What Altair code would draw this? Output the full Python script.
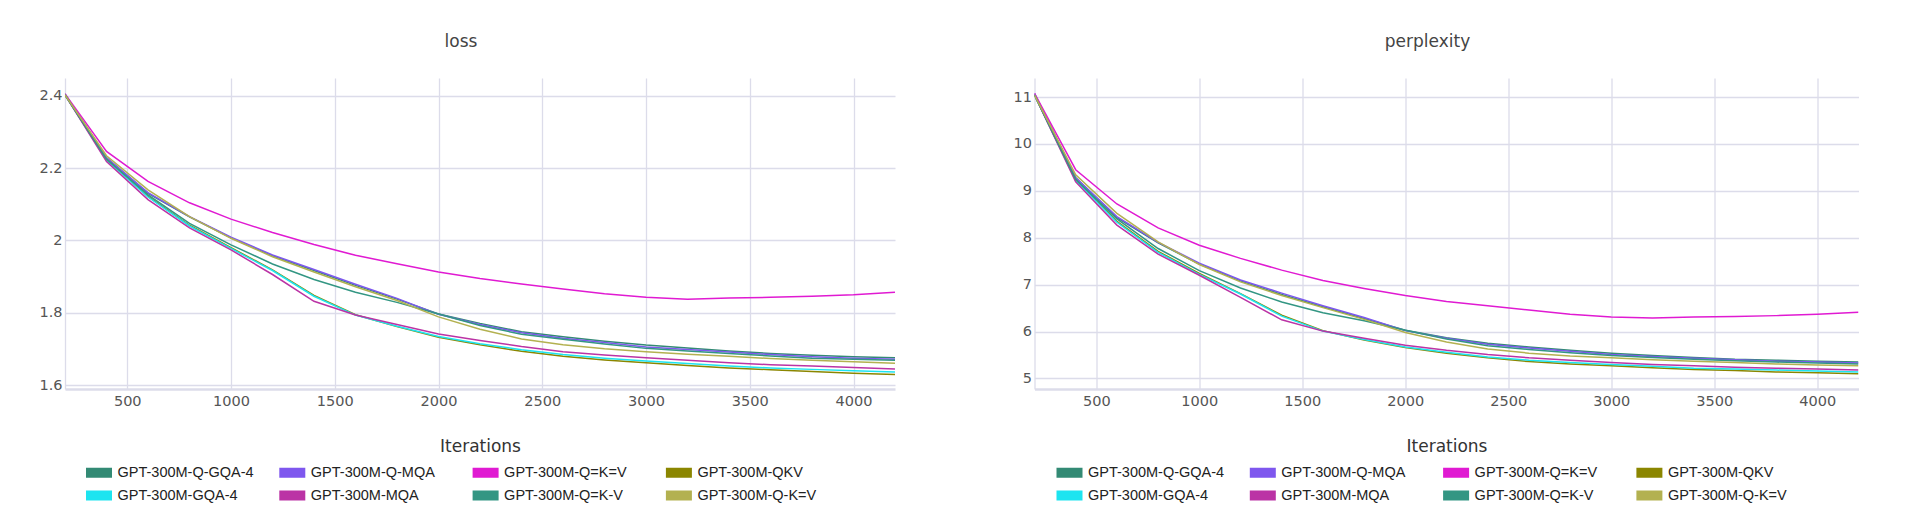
import altair as alt
import pandas as pd

iterations = [200, 400, 600, 800, 1000, 1200, 1400, 1600, 1800, 2000, 2200,
              2400, 2600, 2800, 3000, 3200, 3400, 3600, 3800, 4000, 4200]

series_names = ["GPT-300M-Q-GQA-4", "GPT-300M-Q-MQA", "GPT-300M-Q=K=V", "GPT-300M-QKV",
                "GPT-300M-GQA-4", "GPT-300M-MQA", "GPT-300M-Q=K-V", "GPT-300M-Q-K=V"]
series_colors = ["#338a74", "#7e57ee", "#e01ad2", "#8b8600",
                 "#1de4f0", "#bb33a5", "#339683", "#b3b150"]

# loss values per series
loss_q_gqa4 = [2.404, 2.228, 2.130, 2.065, 2.007, 1.958, 1.917, 1.876, 1.838, 1.797, 1.771,
               1.748, 1.734, 1.722, 1.711, 1.703, 1.695, 1.688, 1.683, 1.679, 1.676]
loss_q_mqa = [2.405, 2.228, 2.132, 2.066, 2.009, 1.960, 1.920, 1.879, 1.840, 1.796, 1.768,
              1.745, 1.730, 1.718, 1.706, 1.699, 1.692, 1.685, 1.679, 1.675, 1.672]
loss_qkv_eq = [2.405, 2.246, 2.163, 2.104, 2.059, 2.022, 1.989, 1.959, 1.936, 1.913, 1.895,
               1.880, 1.866, 1.853, 1.843, 1.838, 1.841, 1.843, 1.846, 1.850, 1.857]
loss_qkv = [2.402, 2.224, 2.122, 2.042, 1.980, 1.919, 1.848, 1.795, 1.762, 1.733, 1.712,
            1.694, 1.680, 1.670, 1.662, 1.655, 1.648, 1.643, 1.638, 1.633, 1.630]
loss_gqa4 = [2.402, 2.222, 2.120, 2.040, 1.978, 1.917, 1.846, 1.794, 1.763, 1.735, 1.715,
             1.698, 1.685, 1.675, 1.667, 1.660, 1.653, 1.648, 1.644, 1.640, 1.637]
loss_mqa = [2.402, 2.218, 2.113, 2.035, 1.974, 1.906, 1.832, 1.794, 1.768, 1.742, 1.724,
            1.707, 1.693, 1.684, 1.676, 1.669, 1.662, 1.657, 1.653, 1.649, 1.645]
loss_qk_v = [2.402, 2.224, 2.126, 2.047, 1.988, 1.935, 1.892, 1.857, 1.829, 1.797, 1.765,
             1.741, 1.727, 1.714, 1.702, 1.695, 1.688, 1.681, 1.675, 1.672, 1.669]
loss_q_kv = [2.402, 2.234, 2.140, 2.066, 2.006, 1.955, 1.913, 1.872, 1.834, 1.789, 1.755,
             1.728, 1.712, 1.701, 1.693, 1.686, 1.680, 1.674, 1.669, 1.665, 1.661]

# perplexity values per series
ppl_q_gqa4 = [11.06, 9.28, 8.43, 7.89, 7.44, 7.08, 6.79, 6.53, 6.28, 6.03, 5.87,
              5.75, 5.67, 5.60, 5.54, 5.49, 5.45, 5.41, 5.39, 5.37, 5.35]
ppl_q_mqa = [11.08, 9.28, 8.45, 7.90, 7.46, 7.10, 6.82, 6.55, 6.30, 6.02, 5.86,
             5.73, 5.65, 5.58, 5.51, 5.47, 5.43, 5.40, 5.37, 5.35, 5.33]
ppl_qkv_eq = [11.08, 9.45, 8.72, 8.21, 7.84, 7.56, 7.31, 7.09, 6.92, 6.77, 6.64,
              6.55, 6.46, 6.37, 6.31, 6.29, 6.31, 6.32, 6.34, 6.37, 6.41]
ppl_qkv = [11.04, 9.24, 8.35, 7.71, 7.24, 6.81, 6.35, 6.02, 5.82, 5.66, 5.54,
           5.44, 5.36, 5.31, 5.27, 5.23, 5.19, 5.17, 5.14, 5.12, 5.10]
ppl_gqa4 = [11.04, 9.22, 8.33, 7.69, 7.22, 6.80, 6.33, 6.01, 5.83, 5.67, 5.56,
            5.46, 5.39, 5.34, 5.30, 5.26, 5.22, 5.20, 5.18, 5.16, 5.14]
ppl_mqa = [11.04, 9.19, 8.27, 7.65, 7.20, 6.73, 6.25, 6.01, 5.86, 5.71, 5.60,
           5.51, 5.44, 5.39, 5.34, 5.30, 5.27, 5.24, 5.22, 5.20, 5.18]
ppl_qk_v = [11.04, 9.24, 8.40, 7.77, 7.30, 6.93, 6.63, 6.40, 6.23, 6.03, 5.84,
            5.70, 5.62, 5.55, 5.49, 5.45, 5.41, 5.38, 5.35, 5.33, 5.31]
ppl_q_kv = [11.04, 9.34, 8.52, 7.91, 7.43, 7.06, 6.77, 6.51, 6.26, 5.98, 5.78,
            5.63, 5.54, 5.48, 5.44, 5.40, 5.37, 5.34, 5.31, 5.29, 5.27]

loss_series = [loss_q_gqa4, loss_q_mqa, loss_qkv_eq, loss_qkv,
               loss_gqa4, loss_mqa, loss_qk_v, loss_q_kv]
ppl_series = [ppl_q_gqa4, ppl_q_mqa, ppl_qkv_eq, ppl_qkv,
              ppl_gqa4, ppl_mqa, ppl_qk_v, ppl_q_kv]

x_ticks = [500, 1000, 1500, 2000, 2500, 3000, 3500, 4000]
loss_ticks = [1.6, 1.8, 2.0, 2.2, 2.4]
ppl_ticks = [5, 6, 7, 8, 9, 10, 11]

# legend fills column by column (2 rows x 4 columns)
legend_order = [0, 4, 1, 5, 2, 6, 3, 7]
legend_names = [series_names[i] for i in legend_order]
legend_colors = [series_colors[i] for i in legend_order]

GRID = "#dcdcea"
TICK_FONT = "DejaVu Sans"
# swatch drawn as three overlapping thick strokes -> a filled 26x10 bar
SWATCH = "M-2,-0.4615H2M-2,0H2M-2,0.4615H2"


def to_frame(series_values):
    rows = []
    for name, vals in zip(series_names, series_values):
        for it, v in zip(iterations, vals):
            rows.append({"Iterations": it, "series": name, "value": v})
    return pd.DataFrame(rows)


def panel(series_values, title, ydomain, yticks, width, legend_x):
    df = to_frame(series_values)
    return alt.Chart(df).mark_line(strokeWidth=1.5, clip=True).encode(
        x=alt.X("Iterations:Q",
                scale=alt.Scale(domain=[200, 4200], nice=False, zero=False),
                axis=alt.Axis(values=x_ticks, format="d", title="Iterations", grid=True,
                              gridColor=GRID, gridWidth=1.3, ticks=False,
                              domainColor=GRID, domainWidth=2.5,
                              labelFont=TICK_FONT, labelFontSize=14.5, labelColor="#555",
                              labelPadding=5, titleFont=TICK_FONT, titleFontSize=17,
                              titleFontWeight="normal", titleColor="#333",
                              titlePadding=31)),
        y=alt.Y("value:Q",
                scale=alt.Scale(domain=ydomain, nice=False, zero=False),
                axis=alt.Axis(values=yticks, format="~g", title=None, grid=True,
                              gridColor=GRID, gridWidth=1.3, ticks=False,
                              domainColor=GRID, domainWidth=1.3,
                              labelFont=TICK_FONT, labelFontSize=14.5, labelColor="#555",
                              labelPadding=3)),
        color=alt.Color("series:N",
                        scale=alt.Scale(domain=legend_names, range=legend_colors),
                        sort=legend_names,
                        legend=alt.Legend(title=None, orient="none", legendX=legend_x,
                                          legendY=386, columns=4, gridAlign="all",
                                          columnPadding=16.3, rowPadding=0,
                                          symbolType=SWATCH, symbolSize=169,
                                          symbolStrokeWidth=4, symbolOpacity=1,
                                          labelFont="Liberation Sans", labelFontSize=14.5,
                                          labelColor="#222", labelOffset=10,
                                          labelLimit=300)),
    ).properties(
        width=width, height=311,
        title=alt.TitleParams(text=title, font=TICK_FONT, fontSize=17,
                              fontWeight="normal", color="#444", anchor="middle",
                              dx=-19, offset=27),
    )


left = panel(loss_series, "loss", [1.5898, 2.4487], loss_ticks, 830, 25.5)
right = panel(ppl_series, "perplexity", [4.776, 11.405], ppl_ticks, 824, 26.5)

chart = alt.hconcat(left, right, spacing=117.5).resolve_scale(
    color="independent"
).properties(
    padding={"top": 33, "left": 38, "right": 5, "bottom": 5},
    background="white",
).configure_view(strokeWidth=0)

chart.save("out.html", embed_options={"renderer": "svg", "actions": False})
